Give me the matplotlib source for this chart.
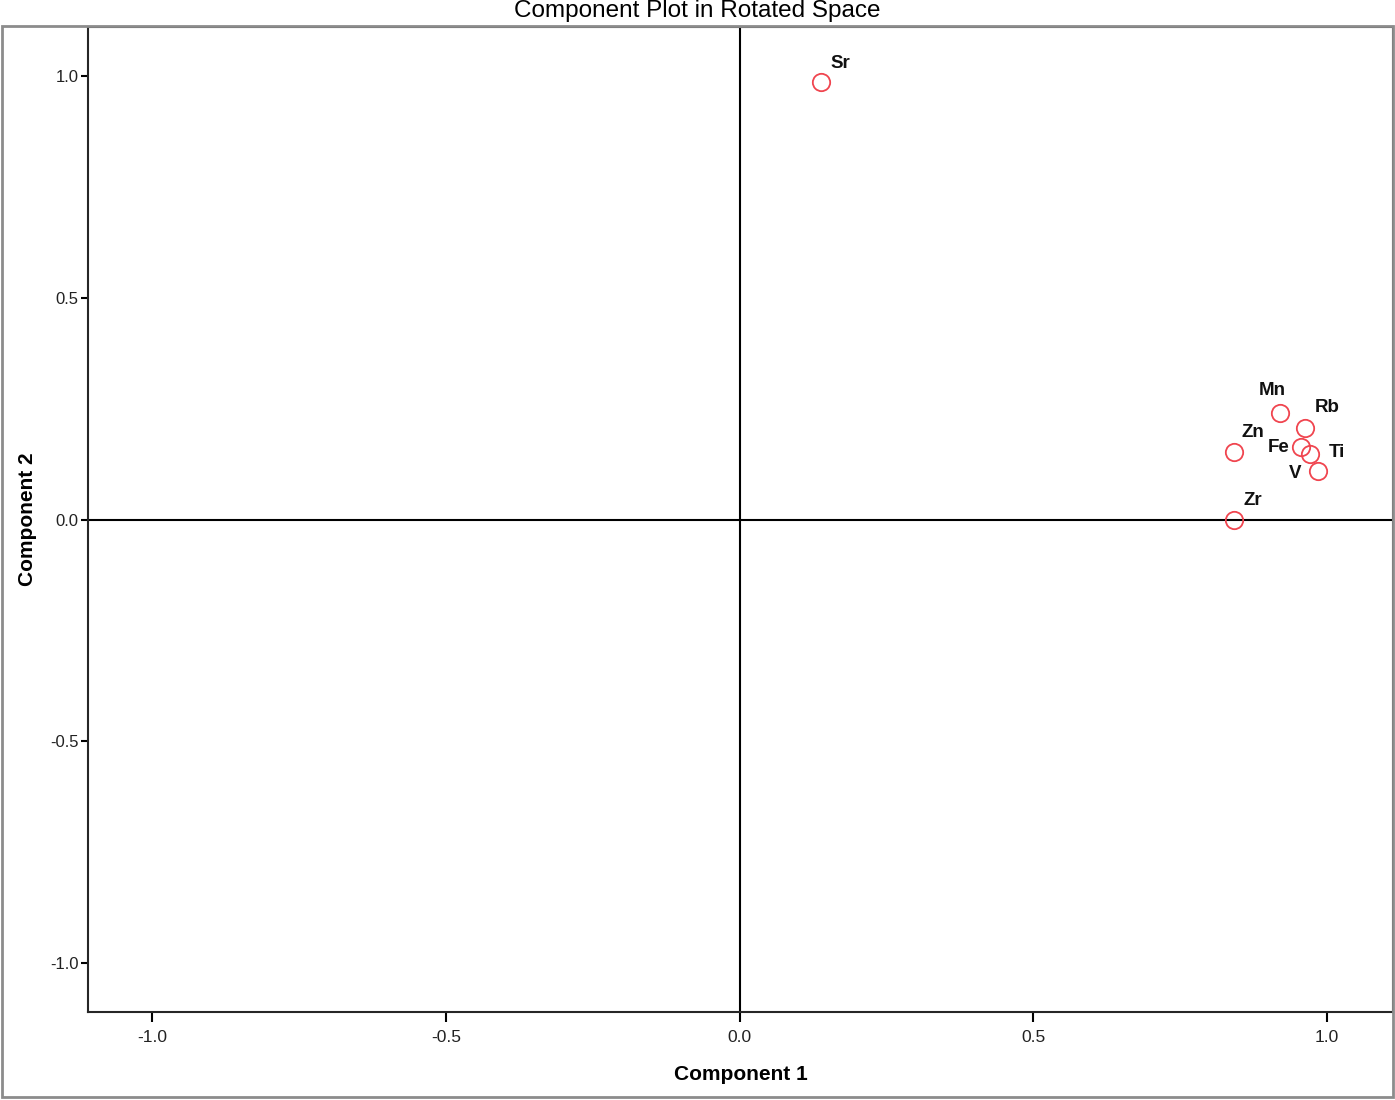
import matplotlib.pyplot as plt
from matplotlib.patches import Rectangle

# component loadings
labels = ["Sr", "Mn", "Rb", "Zn", "Fe", "Ti", "V", "Zr"]
comp1 = [0.138, 0.919, 0.963, 0.841, 0.955, 0.970, 0.984, 0.841]
comp2 = [0.985, 0.240, 0.206, 0.152, 0.163, 0.148, 0.109, 0.000]
ticks = [-1.0, -0.5, 0.0, 0.5, 1.0]
tick_labels = ["-1.0", "-0.5", "0.0", "0.5", "1.0"]

# label offsets in points relative to each marker
offsets = {
    "Sr": (14, 14), "Mn": (-5, 16), "Rb": (16, 15), "Zn": (14, 14),
    "Fe": (-16, 0), "Ti": (20, 1), "V": (-16, -2), "Zr": (14, 14),
}


def main():
    plt.rcParams['font.family'] = ['Liberation Sans', 'DejaVu Sans']
    fig = plt.figure(figsize=(13.95, 11), dpi=100, facecolor='white')

    # outer gray frame
    fig.patches.append(Rectangle((2 / 1395, 1 - 1097 / 1100), 1391 / 1395, 1071 / 1100,
                                 transform=fig.transFigure, fill=False,
                                 edgecolor='0.55', linewidth=2))

    ax = fig.add_axes([88 / 1395, 1 - 1012 / 1100, 1305 / 1395, 985 / 1100])
    ax.set_xlim(-1.109, 1.112)
    ax.set_ylim(-1.11, 1.11)
    for s in ax.spines.values():
        s.set_color('0.15')
        s.set_linewidth(1.5)

    ax.axhline(0, color='black', lw=1.5, zorder=1)
    ax.axvline(0, color='black', lw=1.5, zorder=1)

    ax.plot(comp1, comp2, 'o', ms=12.5, mfc='none', mec='#f0454f', mew=1.3, zorder=3)
    for lab, x, y in zip(labels, comp1, comp2):
        ax.annotate(lab, xy=(x, y), xytext=offsets[lab], textcoords='offset points',
                    ha='center', va='center', fontsize=13.5, fontweight='bold',
                    color='#111111')

    ax.set_xticks(ticks)
    ax.set_xticklabels(tick_labels)
    ax.set_yticks(ticks)
    ax.set_yticklabels(tick_labels)
    ax.tick_params(axis='x', direction='out', length=7, width=1.5, labelsize=12.5,
                   labelcolor='#222222', pad=6)
    ax.tick_params(axis='y', direction='out', length=5, width=1.5, labelsize=12,
                   labelcolor='#222222', pad=2)

    ax.set_xlabel("Component 1", fontsize=15, fontweight='bold', labelpad=14)
    ax.set_ylabel("Component 2", fontsize=15, fontweight='bold', labelpad=9)
    fig.text(697 / 1395, 1 - 11 / 1100, "Component Plot in Rotated Space",
             ha='center', va='center', fontsize=17.5, color='black')

    fig.savefig("out.png", dpi=100, facecolor='white')


if __name__ == '__main__':
    main()
